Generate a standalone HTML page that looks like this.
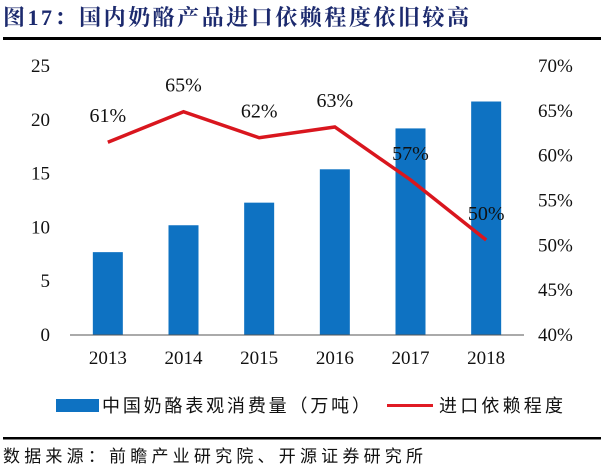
<!DOCTYPE html>
<html><head><meta charset="utf-8"><style>
body{margin:0;background:#fff;width:603px;height:469px;overflow:hidden;font-family:"Liberation Serif","Noto Serif CJK SC",serif}
</style></head><body>
<svg width="603" height="469">
<text x="3" y="25" font-size="22" font-weight="bold" fill="#1c2a6e" font-family="Liberation Serif,Noto Serif CJK SC,serif" textLength="466">图17：国内奶酪产品进口依赖程度依旧较高</text>
<rect x="3" y="37" width="598" height="3" fill="#000"/>
<g id="plot"></g>
<rect x="56" y="399" width="43" height="13" fill="#0e72c2"/>
<text x="102" y="412" font-size="18" fill="#111" font-family="Noto Sans CJK SC,sans-serif" textLength="268">中国奶酪表观消费量（万吨）</text>
<rect x="387" y="404" width="46" height="3" fill="#e01b24"/>
<text x="439" y="412" font-size="18" fill="#111" font-family="Noto Sans CJK SC,sans-serif" textLength="124">进口依赖程度</text>
<rect x="3" y="437" width="598" height="2.5" fill="#000"/>
<text x="3" y="462" font-size="17" fill="#111" font-family="Noto Sans CJK SC,sans-serif" textLength="420">数据来源：前瞻产业研究院、开源证券研究所</text>
</svg>
<script>
const years=["2013","2014","2015","2016","2017","2018"];
const consumption=[7.7,10.2,12.3,15.4,19.2,21.7];
const dependence=[61.5,64.9,62.0,63.2,57.3,50.6];
const depLabels=["61%","65%","62%","63%","57%","50%"];
const leftTicks=[0,5,10,15,20,25];
const rightTicks=[40,45,50,55,60,65,70];
const NS="http://www.w3.org/2000/svg";
const g=document.getElementById('plot');
const x0=70,x1=524,band=(x1-x0)/years.length;
const yL=v=>335-v*(269/25);
const yR=v=>335-(v-40)*(269/30);
const xc=i=>x0+band*(i+0.5);
function mk(t,a){const e=document.createElementNS(NS,t);for(const k in a)e.setAttribute(k,a[k]);g.appendChild(e);return e;}
leftTicks.forEach(v=>{const t=mk('text',{x:50,y:yL(v)+6,'font-size':19,'text-anchor':'end',fill:'#111'});t.textContent=v;

});
rightTicks.forEach(v=>{const t=mk('text',{x:538,y:yR(v)+6,'font-size':19,fill:'#111'});t.textContent=v+'%';

});
years.forEach((y,i)=>{
const r=mk('rect',{x:xc(i)-15,y:yL(consumption[i]),width:30,height:335-yL(consumption[i]),fill:'#0e72c2'});


const t=mk('text',{x:xc(i),y:364,'font-size':19,'text-anchor':'middle',fill:'#111'});t.textContent=y;


});
const ax=mk('line',{x1:x0,x2:x1,y1:335,y2:335,stroke:'#555','stroke-width':1});


const pl=mk('polyline',{points:dependence.map((v,i)=>xc(i)+','+yR(v)).join(' '),fill:'none',stroke:'#d9161e','stroke-width':3.5});


dependence.forEach((v,i)=>{const t=mk('text',{x:xc(i),y:yR(v)-20,'font-size':20,'text-anchor':'middle',fill:'#111'});t.textContent=depLabels[i];

});
</script>
</body></html>
